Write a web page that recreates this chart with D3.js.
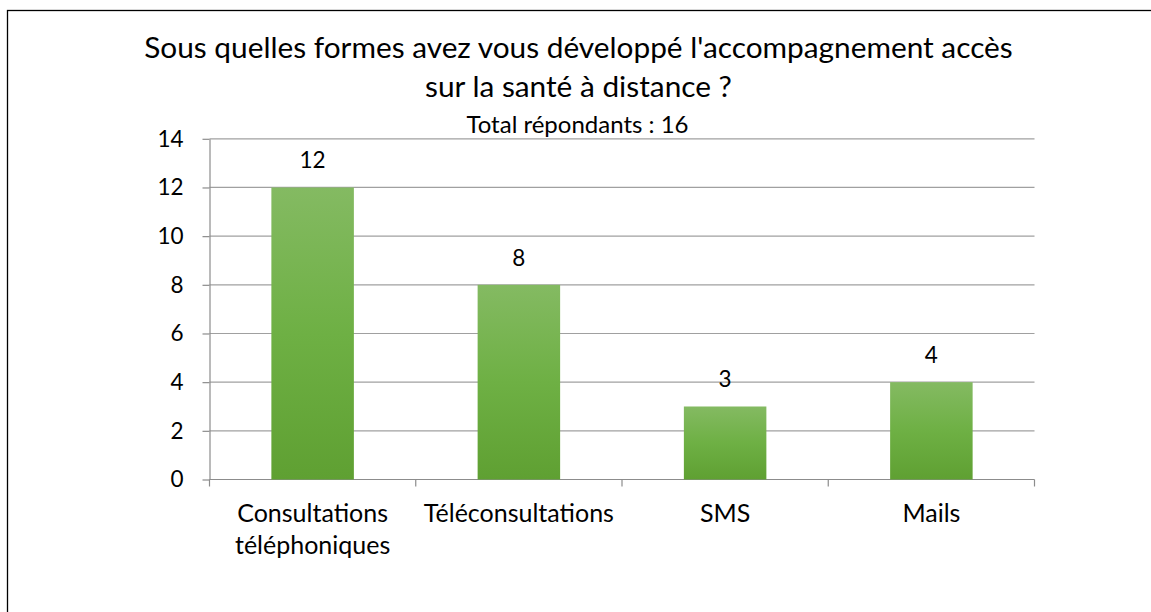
<!DOCTYPE html>
<html>
<head>
<meta charset="utf-8">
<script src="https://cdn.jsdelivr.net/npm/d3@7"></script>
<style>
  html, body { margin: 0; padding: 0; background: #fff; }
  svg { display: block; }
  text { font-family: Lato, "Open Sans", sans-serif; fill: #000; }
</style>
</head>
<body>
<svg id="chart" width="1151" height="612"></svg>
<script>
// Chart data
const categories = ["Consultations\ntéléphoniques", "Téléconsultations", "SMS", "Mails"];
const counts = [12, 8, 3, 4];
const yTicks = [0, 2, 4, 6, 8, 10, 12, 14];
const titleLines = ["Sous quelles formes avez vous développé l'accompagnement accès", "sur la santé à distance ?"];
const subtitle = "Total répondants : 16";

const svg = d3.select("#chart");

// Outer frame
svg.append("rect")
  .attr("x", 7.5).attr("y", 10.5)
  .attr("width", 1160).attr("height", 620)
  .attr("fill", "#fff").attr("stroke", "#000").attr("stroke-width", 1.3);

// Bar gradient: lighter at the top, deeper green at the base
const grad = svg.append("defs").append("linearGradient")
  .attr("id", "barFill").attr("x1", 0).attr("y1", 0).attr("x2", 0).attr("y2", 1);
grad.append("stop").attr("offset", "0%").attr("stop-color", "#84ba62");
grad.append("stop").attr("offset", "50%").attr("stop-color", "#6eb044");
grad.append("stop").attr("offset", "100%").attr("stop-color", "#5fa032");

const plot = { left: 209.5, right: 1034.5, top: 138.8, bottom: 479.5 };

const x = d3.scaleBand()
  .domain(categories)
  .range([plot.left, plot.right])
  .paddingInner(0.6)
  .paddingOuter(0.3);

const y = d3.scaleLinear()
  .domain([0, 14])
  .range([plot.bottom, plot.top]);

// Horizontal gridlines
svg.append("g")
  .selectAll("line")
  .data(yTicks.filter(d => d > 0))
  .join("line")
  .attr("x1", plot.left).attr("x2", plot.right)
  .attr("y1", d => y(d)).attr("y2", d => y(d))
  .attr("stroke", "#a0a0a0").attr("stroke-width", 1.2);

// Y axis
const yAxis = svg.append("g")
  .attr("transform", `translate(${plot.left},0)`)
  .call(d3.axisLeft(y).tickValues(yTicks).tickSize(7).tickSizeOuter(0).tickPadding(19));
yAxis.select(".domain").attr("stroke", "#8c8c8c").attr("stroke-width", 1.2);
yAxis.selectAll(".tick line").attr("stroke", "#8c8c8c").attr("stroke-width", 1.2);
yAxis.selectAll(".tick text")
  .style("font-family", "Lato, sans-serif").style("font-size", "22.5px").attr("fill", "#000");

// X axis with tick marks at band boundaries
const xAxisG = svg.append("g");
xAxisG.append("line")
  .attr("x1", plot.left).attr("x2", plot.right)
  .attr("y1", plot.bottom).attr("y2", plot.bottom)
  .attr("stroke", "#8c8c8c").attr("stroke-width", 1.2);
const edges = d3.range(categories.length + 1).map(i => plot.left + i * (plot.right - plot.left) / categories.length);
xAxisG.selectAll("line.edge")
  .data(edges)
  .join("line").attr("class", "edge")
  .attr("x1", d => d).attr("x2", d => d)
  .attr("y1", plot.bottom).attr("y2", plot.bottom + 7)
  .attr("stroke", "#8c8c8c").attr("stroke-width", 1.2);

// Category labels (may wrap over two lines)
const catLabels = svg.append("g")
  .selectAll("text")
  .data(categories)
  .join("text")
  .attr("text-anchor", "middle")
  .attr("x", d => x(d) + x.bandwidth() / 2)
  .attr("y", 522)
  .style("font-size", "25px");
catLabels.selectAll("tspan")
  .data(d => d.split("\n"))
  .join("tspan")
  .attr("x", function() { return d3.select(this.parentNode).attr("x"); })
  .attr("dy", (d, i) => i === 0 ? 0 : 32)
  .text(d => d);

// Bars
svg.append("g")
  .selectAll("rect")
  .data(categories)
  .join("rect")
  .attr("x", d => x(d))
  .attr("width", x.bandwidth())
  .attr("y", (d, i) => y(counts[i]))
  .attr("height", (d, i) => y(0) - y(counts[i]))
  .attr("fill", "url(#barFill)");

// Value labels above the bars
svg.append("g")
  .selectAll("text")
  .data(categories)
  .join("text")
  .attr("text-anchor", "middle")
  .attr("x", d => x(d) + x.bandwidth() / 2)
  .attr("y", (d, i) => y(counts[i]) - 19)
  .style("font-size", "22.5px")
  .text((d, i) => counts[i]);

// Title and subtitle
svg.append("g")
  .selectAll("text")
  .data(titleLines)
  .join("text")
  .attr("text-anchor", "middle")
  .attr("x", 578.5)
  .attr("y", (d, i) => 58 + i * 39)
  .style("font-size", "29.8px")
  .text(d => d);

svg.append("text")
  .attr("text-anchor", "middle")
  .attr("x", 577.5)
  .attr("y", 133)
  .style("font-size", "24px")
  .text(subtitle);
</script>
</body>
</html>
